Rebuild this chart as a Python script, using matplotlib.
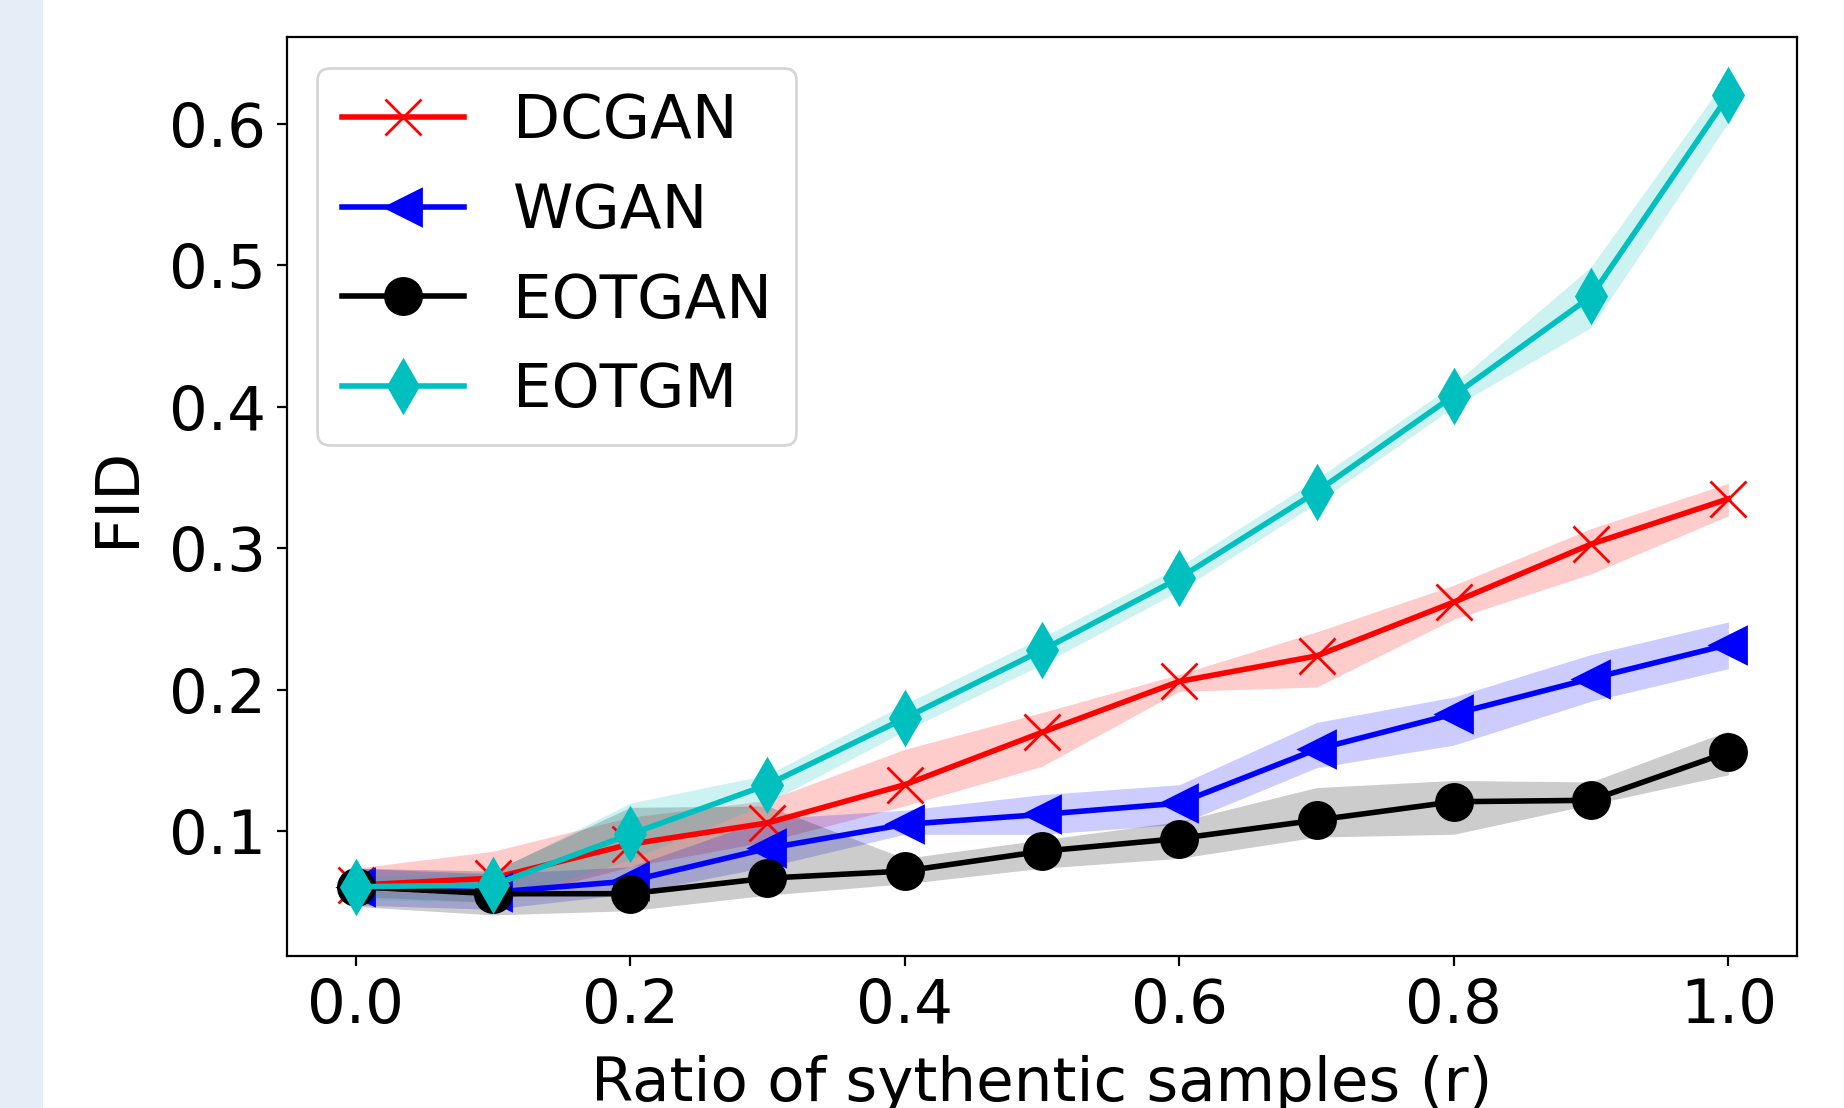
import matplotlib
matplotlib.use('Agg')
import matplotlib.pyplot as plt
from matplotlib.patches import Rectangle

# ratio of synthetic samples
r = [0.0, 0.1, 0.2, 0.3, 0.4, 0.5, 0.6, 0.7, 0.8, 0.9, 1.0]

# mean FID and band (lower / upper) per method
dcgan = [0.062, 0.067, 0.091, 0.106, 0.133, 0.170, 0.206, 0.224, 0.262, 0.303, 0.335]
dcgan_lo = [0.054, 0.050, 0.075, 0.093, 0.118, 0.146, 0.199, 0.202, 0.250, 0.282, 0.323]
dcgan_hi = [0.074, 0.086, 0.110, 0.122, 0.158, 0.184, 0.211, 0.241, 0.274, 0.314, 0.346]

wgan = [0.061, 0.057, 0.065, 0.088, 0.105, 0.112, 0.120, 0.158, 0.183, 0.208, 0.232]
wgan_lo = [0.048, 0.045, 0.056, 0.075, 0.098, 0.098, 0.105, 0.145, 0.161, 0.192, 0.215]
wgan_hi = [0.074, 0.070, 0.075, 0.109, 0.115, 0.126, 0.133, 0.177, 0.195, 0.225, 0.248]

eotgan = [0.061, 0.056, 0.056, 0.067, 0.072, 0.086, 0.095, 0.108, 0.121, 0.122, 0.156]
eotgan_lo = [0.047, 0.041, 0.044, 0.055, 0.063, 0.074, 0.081, 0.096, 0.098, 0.119, 0.140]
eotgan_hi = [0.074, 0.072, 0.117, 0.118, 0.081, 0.094, 0.107, 0.131, 0.136, 0.135, 0.171]

eotgm = [0.061, 0.062, 0.098, 0.133, 0.180, 0.228, 0.279, 0.340, 0.408, 0.478, 0.620]
eotgm_lo = [0.052, 0.050, 0.080, 0.120, 0.171, 0.218, 0.270, 0.332, 0.400, 0.456, 0.601]
eotgm_hi = [0.068, 0.071, 0.120, 0.140, 0.190, 0.237, 0.287, 0.349, 0.416, 0.499, 0.634]

fig = plt.figure(figsize=(9.22, 5.54), dpi=200)
fig.patches.append(Rectangle((0, 0), 43 / 1844, 1, transform=fig.transFigure,
                             facecolor='#e7edf6', edgecolor='none', zorder=0))
ax = fig.add_axes([0.1556, 0.1372, 0.9745 - 0.1556, 0.9662 - 0.1372])

series = [
    ('DCGAN', dcgan, dcgan_lo, dcgan_hi, 'r', 'x'),
    ('WGAN', wgan, wgan_lo, wgan_hi, 'b', '<'),
    ('EOTGAN', eotgan, eotgan_lo, eotgan_hi, 'k', 'o'),
    ('EOTGM', eotgm, eotgm_lo, eotgm_hi, 'c', 'd'),
]
for name, y, lo, hi, col, mk in series:
    ax.plot(r, y, color=col, marker=mk, markersize=13, linewidth=2, label=name)
    ax.fill_between(r, lo, hi, color=col, alpha=0.2, linewidth=0)

ax.set_xlim(-0.05, 1.05)
ax.set_ylim(0.012, 0.661)
ax.set_xticks([0.0, 0.2, 0.4, 0.6, 0.8, 1.0])
ax.set_yticks([0.1, 0.2, 0.3, 0.4, 0.5, 0.6])
ax.tick_params(labelsize=22, pad=4)
ax.set_xlabel('Ratio of sythentic samples (r)', fontsize=22, labelpad=7)
ax.set_ylabel('FID', fontsize=22, labelpad=8)
ax.legend(loc='upper left', fontsize=22)

fig.savefig('out.png', dpi=200)
